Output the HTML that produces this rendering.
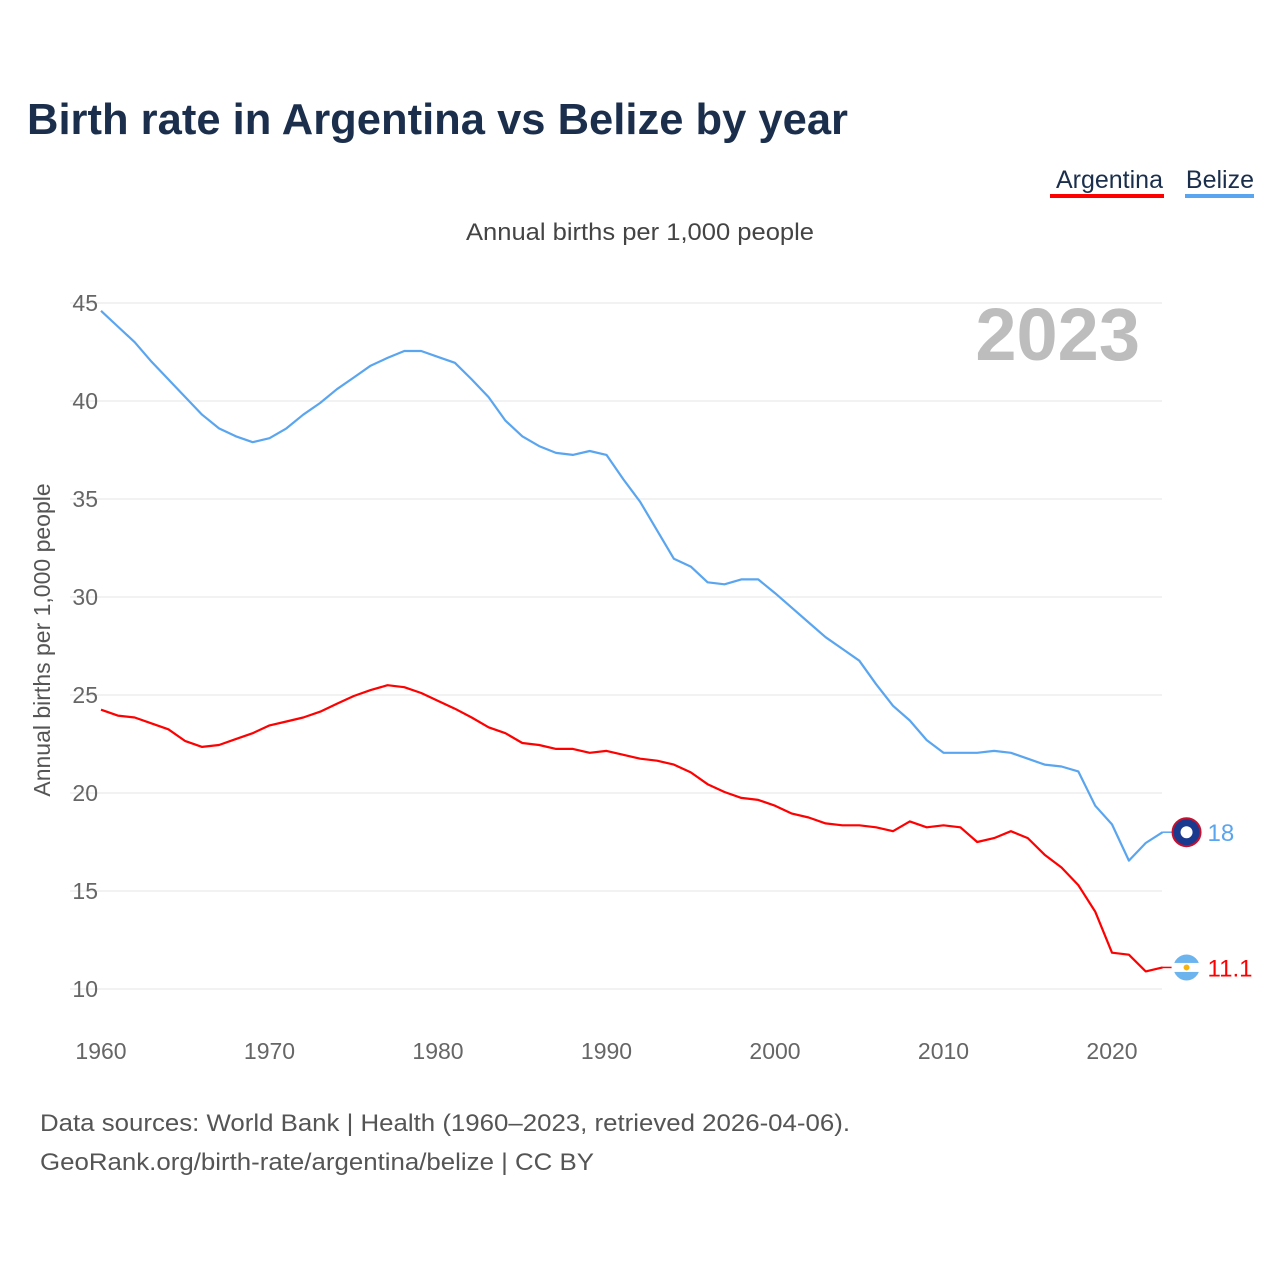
<!DOCTYPE html>
<html><head><meta charset="utf-8">
<style>
body{margin:0;background:#fff;width:1280px;height:1280px;overflow:hidden;font-family:"Liberation Sans",sans-serif}
</style></head>
<body>
<svg id="chart" width="1280" height="1280" xmlns="http://www.w3.org/2000/svg">
<text x="27" y="134" font-size="44" font-weight="bold" fill="#1b2f4d" textLength="821" lengthAdjust="spacingAndGlyphs">Birth rate in Argentina vs Belize by year</text>
<g><text x="1163" y="188" font-size="25" fill="#1b2f4d" text-anchor="end">Argentina</text><rect x="1050" y="194" width="114" height="4" fill="#ff0000"/></g>
<g><text x="1254" y="188" font-size="25" fill="#1b2f4d" text-anchor="end">Belize</text><rect x="1185" y="194" width="69" height="4" fill="#5aa5ef"/></g>
<text x="466" y="240" font-size="24" fill="#444" textLength="348" lengthAdjust="spacingAndGlyphs">Annual births per 1,000 people</text>
<text x="1140" y="360" font-size="74" font-weight="bold" fill="#bdbdbd" text-anchor="end">2023</text>
<text transform="translate(50,640) rotate(-90)" font-size="23" fill="#555" text-anchor="middle">Annual births per 1,000 people</text>
<g id="grid"></g><g id="lines"></g>
<text x="40" y="1131" font-size="24" fill="#555" textLength="810" lengthAdjust="spacingAndGlyphs">Data sources: World Bank | Health (1960–2023, retrieved 2026-04-06).</text>
<text x="40" y="1170" font-size="24" fill="#555" textLength="554" lengthAdjust="spacingAndGlyphs">GeoRank.org/birth-rate/argentina/belize | CC BY</text>
</svg>
<script>
const years=[];for(let y=1960;y<=2023;y++)years.push(y);
const belize=[44.6,43.8,43.0,42.0,41.1,40.2,39.3,38.6,38.2,37.9,38.1,38.6,39.3,39.9,40.6,41.2,41.8,42.2,42.55,42.55,42.25,41.95,41.1,40.2,39.0,38.2,37.7,37.35,37.25,37.45,37.25,36.0,34.85,33.4,31.95,31.55,30.75,30.65,30.9,30.9,30.2,29.45,28.7,27.95,27.35,26.75,25.55,24.45,23.7,22.7,22.05,22.05,22.05,22.15,22.05,21.75,21.45,21.35,21.1,19.35,18.4,16.55,17.45,18.0];
const argentina=[24.25,23.95,23.85,23.55,23.25,22.65,22.35,22.45,22.75,23.05,23.45,23.65,23.85,24.15,24.55,24.95,25.25,25.5,25.4,25.1,24.7,24.3,23.85,23.35,23.05,22.55,22.45,22.25,22.25,22.05,22.15,21.95,21.75,21.65,21.45,21.05,20.45,20.05,19.75,19.65,19.35,18.95,18.75,18.45,18.35,18.35,18.25,18.05,18.55,18.25,18.35,18.25,17.5,17.7,18.05,17.7,16.85,16.2,15.3,13.95,11.85,11.75,10.9,11.1];
const yTicks=[10,15,20,25,30,35,40,45];
const xTicks=[1960,1970,1980,1990,2000,2010,2020];
const NS='http://www.w3.org/2000/svg';
const X=v=>101+(v-1960)*(1011/60);
const Y=v=>303+(45-v)*(686/35);
const grid=document.getElementById('grid'),lines=document.getElementById('lines');
function mk(tag,attrs,parent,txt){const e=document.createElementNS(NS,tag);for(const k in attrs)e.setAttribute(k,attrs[k]);if(txt!==undefined)e.textContent=txt;parent.appendChild(e);return e;}
yTicks.forEach(t=>{
 const l=mk('line',{x1:70,x2:1162,y1:Y(t),y2:Y(t),stroke:'#e6e6e6','stroke-width':1},grid);
 
 
 const tx=mk('text',{x:98,y:Y(t)+8,'font-size':23,fill:'#666','text-anchor':'end'},grid,t);
 
 
});
xTicks.forEach(t=>{
 const tx=mk('text',{x:X(t),y:1059,'font-size':23,fill:'#666','text-anchor':'middle'},grid,t);
 
 
});
function series(data,color,name,labelTxt){
 const d=data.map((v,i)=>(i?'L':'M')+X(years[i]).toFixed(1)+','+Y(v).toFixed(1)).join('');
 const p=mk('path',{d:d,fill:'none',stroke:color,'stroke-width':2.2,'stroke-linejoin':'round'},lines);
 
 
 const last=data[data.length-1],lx=X(years[years.length-1]),ly=Y(last);
 const c=mk('line',{x1:lx,x2:lx+10,y1:ly,y2:ly,stroke:color,'stroke-width':1.5},lines);
 
 
 const f=mk('circle',{cx:lx+24,cy:ly,r:14,fill:name==='belize'?'#1a3a8f':'#6cb4ee',stroke:name==='belize'?'#c8102e':'#fff','stroke-width':2},lines);
 
 
 if(name==='argentina'){mk('rect',{x:lx+10,y:ly-4.5,width:28,height:9,fill:'#fff'},lines);mk('circle',{cx:lx+24,cy:ly,r:3,fill:'#f6b40e'},lines);}
 else{mk('circle',{cx:lx+24,cy:ly,r:6,fill:'#fff'},lines);}
 const t=mk('text',{x:lx+45,y:ly+9,'font-size':24,fill:color},lines,labelTxt);
 
 
}
series(belize,'#5aa5ef','belize',String(belize[belize.length-1]));
series(argentina,'#ff0000','argentina',String(argentina[argentina.length-1]));
</script>
</body></html>
